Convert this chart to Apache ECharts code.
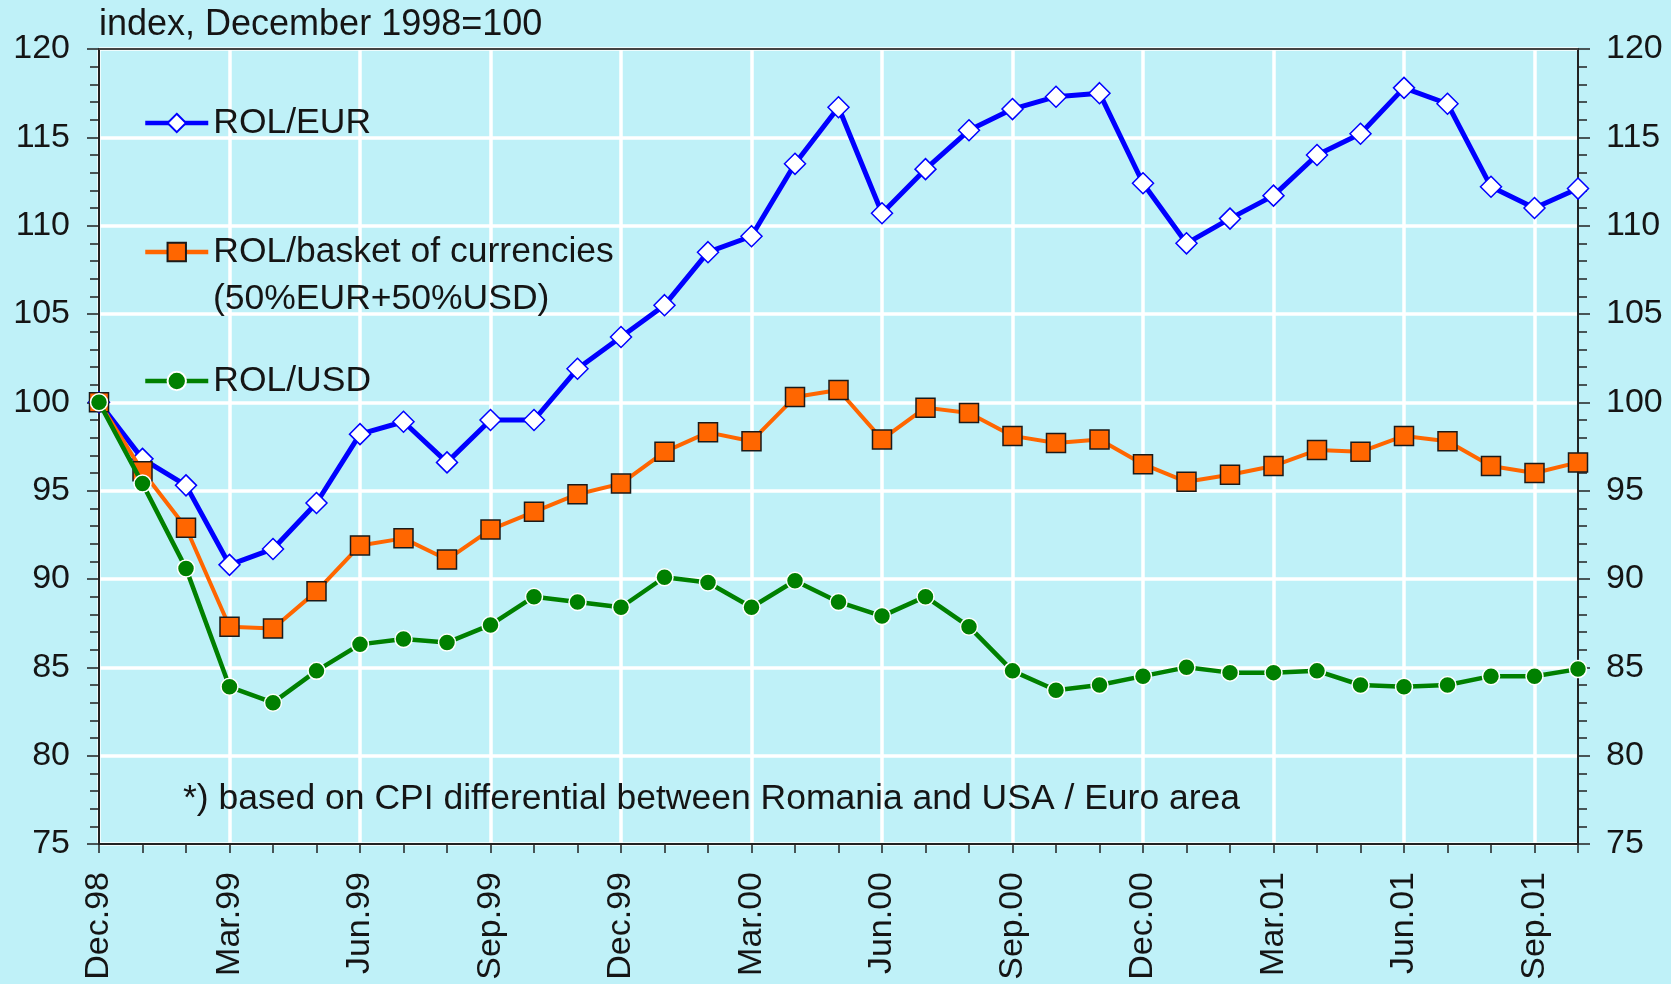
<!DOCTYPE html>
<html>
<head>
<meta charset="utf-8">
<script src="https://cdn.jsdelivr.net/npm/echarts@6/dist/echarts.min.js"></script>
<style>
html,body{margin:0;padding:0;background:#bff1f8;}
#chart{width:1671px;height:984px;}
</style>
</head>
<body>
<div id="chart"></div>
<script>
const months = ['Dec.98','Jan.99','Feb.99','Mar.99','Apr.99','May.99','Jun.99','Jul.99','Aug.99','Sep.99','Oct.99','Nov.99',
  'Dec.99','Jan.00','Feb.00','Mar.00','Apr.00','May.00','Jun.00','Jul.00','Aug.00','Sep.00','Oct.00','Nov.00',
  'Dec.00','Jan.01','Feb.01','Mar.01','Apr.01','May.01','Jun.01','Jul.01','Aug.01','Sep.01','Oct.01'];
const rolEur = [100, 96.8, 95.3, 90.8, 91.7, 94.3, 98.2, 98.9, 96.6, 99.0, 99.0, 101.9,
  103.7, 105.5, 108.5, 109.4, 113.5, 116.7, 110.7, 113.2, 115.4, 116.6, 117.3, 117.5,
  112.4, 109.0, 110.4, 111.7, 114.0, 115.2, 117.8, 116.9, 112.2, 111.0, 112.1];
const rolBasket = [100, 96.1, 92.9, 87.3, 87.2, 89.3, 91.9, 92.3, 91.1, 92.8, 93.8, 94.8,
  95.4, 97.2, 98.3, 97.8, 100.3, 100.7, 97.9, 99.7, 99.4, 98.1, 97.7, 97.9,
  96.5, 95.5, 95.9, 96.4, 97.3, 97.2, 98.1, 97.8, 96.4, 96.0, 96.6];
const rolUsd = [100, 95.4, 90.6, 83.9, 83.0, 84.8, 86.3, 86.6, 86.4, 87.4, 89.0, 88.7,
  88.4, 90.1, 89.8, 88.4, 89.9, 88.7, 87.9, 89.0, 87.3, 84.8, 83.7, 84.0,
  84.5, 85.0, 84.7, 84.7, 84.8, 84.0, 83.9, 84.0, 84.5, 84.5, 84.9];
const yTicks = {min: 75, max: 120, step: 5};
const seriesNames = ['ROL/EUR', 'ROL/basket of currencies', 'ROL/USD'];
const basketSubLabel = '(50%EUR+50%USD)';
const titleText = 'index, December 1998=100';
const noteText = '*) based on CPI differential between Romania and USA / Euro area';

const FONT = 'Liberation Sans, Arial, sans-serif';
const TXT = '#151515';
const FS = 35.5;
const AFS = 34;

const chart = echarts.init(document.getElementById('chart'));
const yAxisBase = {
  type: 'value', min: yTicks.min, max: yTicks.max, interval: yTicks.step,
  axisLine: {show: true, lineStyle: {color: '#222', width: 2}},
  axisTick: {show: true, inside: false, length: 12, lineStyle: {color: '#222', width: 1.5}},
  minorTick: {show: true, splitNumber: 5, length: 9, lineStyle: {color: '#222', width: 1.5}},
  axisLabel: {fontFamily: FONT, fontSize: AFS, color: TXT, margin: 29},
};
const legendBase = {
  orient: 'vertical', left: 143, padding: 0, itemWidth: 63, itemHeight: 23,
  lineStyle: {width: 4.5},
  textStyle: {fontFamily: FONT, fontSize: FS, color: TXT}, selectedMode: false
};
chart.setOption({
  backgroundColor: '#bff1f8',
  animation: false,
  grid: {left: 99, right: 93, top: 49, bottom: 140},
  xAxis: [{
    type: 'category', data: months, boundaryGap: false,
    axisLine: {show: true, lineStyle: {color: '#222', width: 2}},
    axisTick: {show: true, interval: 0, inside: false, length: 9, lineStyle: {color: '#222', width: 1.5}},
    axisLabel: {interval: 2, rotate: 90, fontFamily: FONT, fontSize: AFS, color: TXT, margin: 28},
    splitLine: {show: true, interval: 2, lineStyle: {color: '#ffffff', width: 3.5}}
  }, {
    type: 'category', data: months, boundaryGap: false, position: 'top',
    axisLine: {show: true, lineStyle: {color: '#444', width: 2}},
    axisTick: {show: false}, axisLabel: {show: false}, splitLine: {show: false}
  }],
  yAxis: [
    Object.assign({}, yAxisBase, {position: 'left', splitLine: {show: true, lineStyle: {color: '#ffffff', width: 3.5}}}),
    Object.assign({}, yAxisBase, {position: 'right', splitLine: {show: false}, axisLabel: Object.assign({}, yAxisBase.axisLabel, {margin: 28})})
  ],
  legend: [
    Object.assign({}, legendBase, {top: 105, data: [seriesNames[0]]}),
    Object.assign({}, legendBase, {top: 234, data: [seriesNames[1]]}),
    Object.assign({}, legendBase, {top: 363, data: [seriesNames[2]]})
  ],
  series: [
    {name: seriesNames[0], type: 'line', data: rolEur, symbol: 'diamond', symbolSize: 21,
     lineStyle: {color: '#0000ff', width: 5}, itemStyle: {color: '#ffffff', borderColor: '#0000ff', borderWidth: 1.5}, z: 3},
    {name: seriesNames[1], type: 'line', data: rolBasket, symbol: 'rect', symbolSize: 19,
     lineStyle: {color: '#ff6600', width: 4}, itemStyle: {color: '#ff6600', borderColor: '#1a1a1a', borderWidth: 1.5}, z: 4},
    {name: seriesNames[2], type: 'line', data: rolUsd, symbol: 'circle', symbolSize: 17,
     lineStyle: {color: '#008000', width: 4.5}, itemStyle: {color: '#008000', borderColor: '#ffffff', borderWidth: 1.5}, z: 5}
  ],
  graphic: [
    {type: 'text', left: 99, top: 7, z: 100, style: {text: titleText, font: '36px ' + FONT, fill: TXT}},
    {type: 'text', left: 213, top: 281, z: 100, style: {text: basketSubLabel, font: FS + 'px ' + FONT, fill: TXT}},
    {type: 'text', left: 183, top: 781, z: 100, style: {text: noteText, font: FS + 'px ' + FONT, fill: TXT}}
  ]
});
</script>
</body>
</html>
